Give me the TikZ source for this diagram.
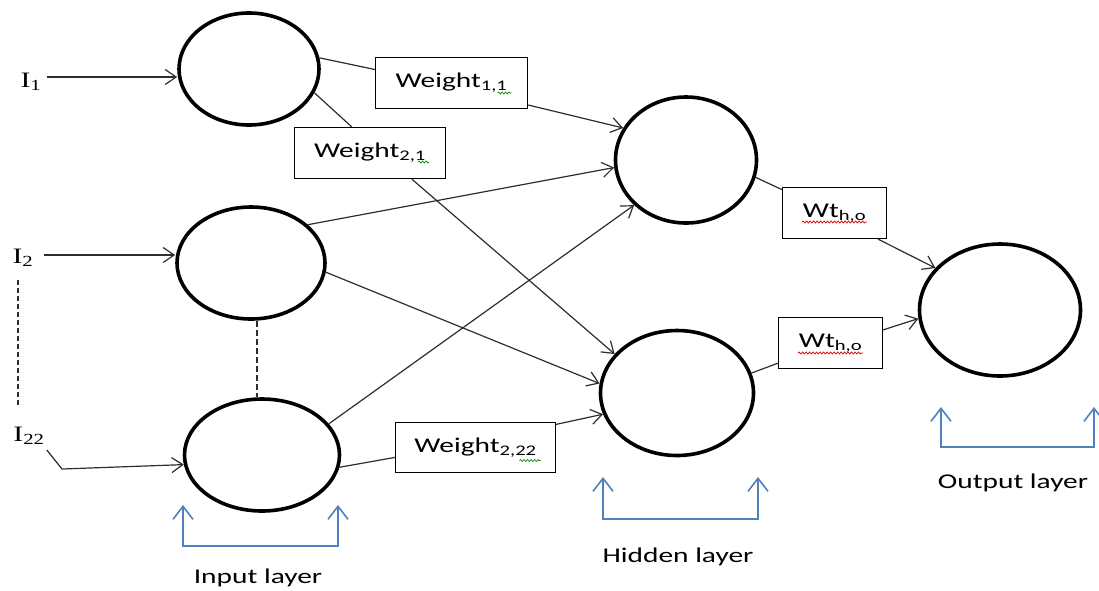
\documentclass[tikz,border=0pt]{standalone}
\usepackage{fontspec}
\setmainfont{Carlito}[FakeStretch=1.4]
\newfontfamily\lblfont{Liberation Serif}[FakeStretch=1.35]
\usetikzlibrary{arrows.meta,shapes.geometric,decorations.pathmorphing,calc}
\definecolor{bracketblue}{RGB}{79,129,189}
\definecolor{linegray}{RGB}{45,45,45}
\begin{document}
\begin{tikzpicture}[x=1pt,y=-1pt,
  neuron/.style={ellipse,draw=black,line width=3.6pt,inner sep=0pt},
  wbox/.style={rectangle,draw=black,line width=1.3pt,fill=white,inner sep=0pt,font=\fontsize{21}{25}\selectfont},
  conn/.style={draw=linegray,line width=1.2pt},
  arr/.style={conn,-{Straight Barb[length=11pt,width=15pt]}},
  brk/.style={draw=bracketblue,line width=1.6pt,{Straight Barb[length=13pt,width=20pt]}-{Straight Barb[length=13pt,width=20pt]}},
  lyr/.style={font=\fontsize{21}{25}\selectfont,inner sep=0pt},
  inlab/.style={font=\lblfont\fontsize{22}{26}\selectfont,inner sep=0pt},
  redsq/.style={draw=red!85!black,line width=0.7pt,decorate,decoration={snake,amplitude=1pt,segment length=3.5pt}},
  grnsq/.style={draw=green!55!black,line width=0.7pt,decorate,decoration={snake,amplitude=1pt,segment length=3.5pt}}
]
\useasboundingbox (0,0) rectangle (1099,590);

% neurons
\node[neuron,minimum width=140pt,minimum height=112pt] (in1) at (249,69) {};
\node[neuron,minimum width=148pt,minimum height=112pt] (in2) at (251,263) {};
\node[neuron,minimum width=155pt,minimum height=112pt] (in22) at (262,455) {};
\node[neuron,minimum width=141pt,minimum height=126pt] (h1) at (686,160) {};
\node[neuron,minimum width=153pt,minimum height=125pt] (h2) at (677,393) {};
\node[neuron,minimum width=161pt,minimum height=132pt] (out) at (1000,310) {};

% weight boxes
\node[wbox,minimum width=152pt,minimum height=51pt] (w11) at (451.5,83) {Weight\textsubscript{1,1}};
\node[wbox,minimum width=151pt,minimum height=51pt] (w21) at (370,153) {Weight\textsubscript{2,1}};
\node[wbox,minimum width=160pt,minimum height=50pt] (w222) at (475.5,447.5) {Weight\textsubscript{2,22}};
\node[wbox,minimum width=104pt,minimum height=51pt] (wt1) at (834.5,213) {Wt\textsubscript{h,o}};
\node[wbox,minimum width=104pt,minimum height=51pt] (wt2) at (830.5,343) {Wt\textsubscript{h,o}};

% spell-check squiggles
\draw[grnsq] ($(w11.center)+(46,10)$) -- ($(w11.center)+(60,10)$);
\draw[grnsq] ($(w21.center)+(48,9)$) -- ($(w21.center)+(59,9)$);
\draw[grnsq] ($(w222.center)+(44,13)$) -- ($(w222.center)+(65,13)$);
\draw[redsq] ($(wt1.center)+(-32.5,9)$) -- ($(wt1.center)+(32.5,9)$);
\draw[redsq] ($(wt2.center)+(-32.5,10)$) -- ($(wt2.center)+(32.5,10)$);

% input labels
\node[inlab,anchor=base] (i1) at (31,87) {I\textsubscript{1}};
\node[inlab,anchor=base] (i2) at (23,263) {I\textsubscript{2}};
\node[inlab,anchor=base] (i22) at (29,441) {I\textsubscript{22}};

\coordinate (i1s) at ([xshift=5pt,yshift=10pt]i1.base east);
\coordinate (i2s) at ([xshift=10pt,yshift=8pt]i2.base east);
\coordinate (c22a) at ([xshift=2pt,yshift=-9pt]i22.base east);
\coordinate (c22b) at (62,469);
\draw[arr] (i1s) -- (i1s -| in1.west);
\draw[arr] (i2s) -- (i2s -| in2.west);
\draw[arr] (c22a) -- (c22b) -- (in22.187);

% dashed ellipsis lines
\coordinate (dl1) at (18,280);
\coordinate (dl2) at (18,407);
\draw[linegray,line width=1.2pt,dash pattern=on 5pt off 3pt] (dl1) -- (dl2);
\coordinate (dm) at (257,0);
\draw[linegray,line width=1.2pt,dash pattern=on 6pt off 3pt] (in2.south -| dm) -- (in22.north -| dm);

% connectors
\draw[conn] (in1.9) -- (w11.170);
\draw[arr] (w11.-16) -- (h1.153);
\draw[conn] (in1.-20) -- (w21.125);
\draw[arr] (w21.-32) -- (h2.148);
\draw[arr] (in2.34) -- (h1.186);
\draw[arr] (in2.-7) -- (h2.173);
\draw[arr] (in22.25) -- (h1.-139);
\draw[conn] (in22.-9) -- (w222.187);
\draw[arr] (w222.16) -- (h2.196);
\draw[conn] (h1.-14) -- (wt1.156);
\draw[arr] (wt1.-31) -- (out.147);
\draw[conn] (h2.15) -- (wt2.201);
\draw[arr] (wt2.14) -- (out.186);

% layer brackets
\coordinate (ib1) at (183,505); \coordinate (ib2) at (183,546);
\coordinate (ib3) at (338,546); \coordinate (ib4) at (338,505);
\draw[brk] (ib1) -- (ib2) -- (ib3) -- (ib4);
\coordinate (hb1) at (603,477); \coordinate (hb2) at (603,519);
\coordinate (hb3) at (758,519); \coordinate (hb4) at (758,477);
\draw[brk] (hb1) -- (hb2) -- (hb3) -- (hb4);
\coordinate (ob1) at (941,407); \coordinate (ob2) at (941,447);
\coordinate (ob3) at (1094,447); \coordinate (ob4) at (1094,407);
\draw[brk] (ob1) -- (ob2) -- (ob3) -- (ob4);

\node[lyr] (linput) at (258,578) {Input layer};
\node[lyr] (lhidden) at (678,557) {Hidden layer};
\node[lyr] (loutput) at (1013,483) {Output layer};
\end{tikzpicture}
\end{document}
